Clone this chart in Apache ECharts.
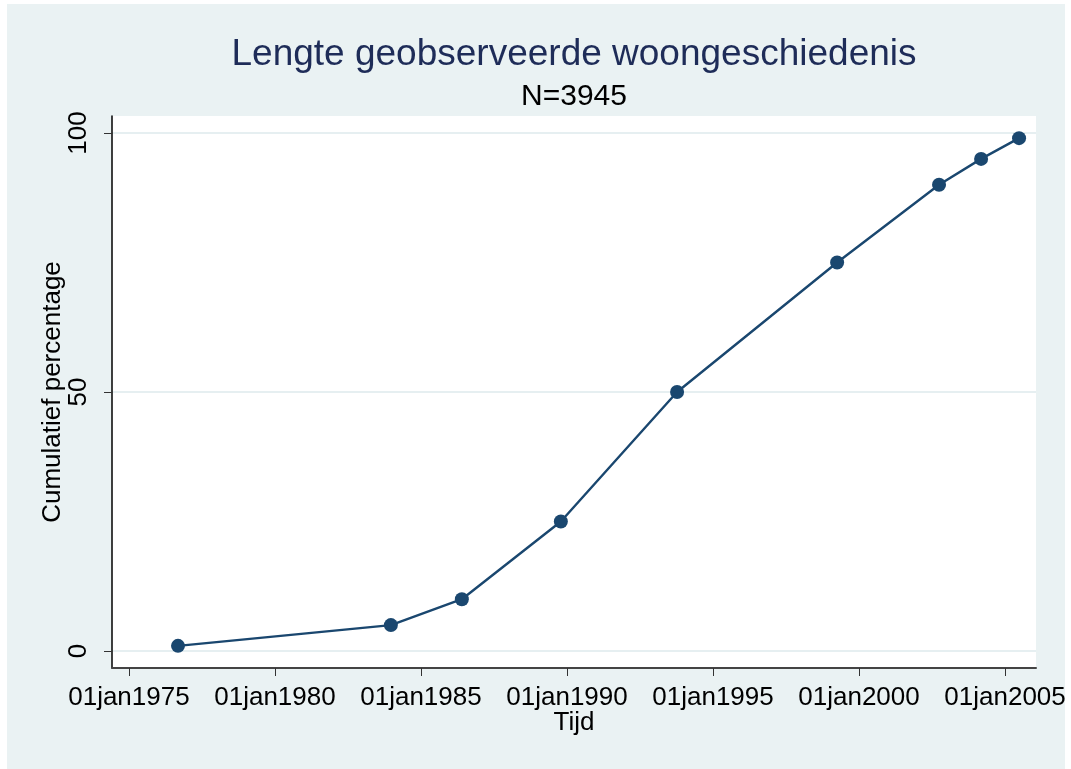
<!DOCTYPE html>
<html>
<head>
<meta charset="utf-8">
<script src="https://cdn.jsdelivr.net/npm/echarts@6/dist/echarts.min.js"></script>
<style>
html,body{margin:0;padding:0;background:#ffffff;}
#chart{width:1071px;height:769px;}
</style>
</head>
<body>
<div id="chart"></div>
<script>
// Time (decimal years) of each cumulative percentile
const years = [1976.68, 1983.97, 1986.40, 1989.79, 1993.77, 1999.25, 2002.74, 2004.18, 2005.48];
const cumPct = [1, 5, 10, 25, 50, 75, 90, 95, 99];
const xTicks = [1975, 1980, 1985, 1990, 1995, 2000, 2005];
const yTicks = [0, 50, 100];
const titleText = 'Lengte geobserveerde woongeschiedenis';
const subtitleText = 'N=3945';
const xTitle = 'Tijd';
const yTitle = 'Cumulatief percentage';

const chart = echarts.init(document.getElementById('chart'), null, {renderer: 'canvas'});
const FONT = '"Liberation Sans", Arial, Helvetica, sans-serif';
const navy = '#1a476f';

const option = {
  backgroundColor: '#ffffff',
  animation: false,
  graphic: [{
    type: 'rect', z: -10, silent: true,
    shape: {x: 7, y: 4, width: 1058, height: 765},
    style: {fill: '#eaf2f3'}
  }, {
    type: 'rect', z: -9, silent: true,
    shape: {x: 112, y: 116, width: 924, height: 552},
    style: {fill: '#ffffff'}
  }, {
    type: 'text', silent: true, x: 574, y: 36,
    style: {text: titleText, font: '37px ' + FONT, fill: '#1e2c58', align: 'center', verticalAlign: 'top'}
  }, {
    type: 'text', silent: true, x: 574, y: 82,
    style: {text: subtitleText, font: '30px ' + FONT, fill: '#000000', align: 'center', verticalAlign: 'top'}
  }],
  grid: {left: 112, right: 35, top: 116, bottom: 101, containLabel: false},
  xAxis: {
    type: 'value', min: 1974.42, max: 2006.06,
    name: xTitle, nameLocation: 'middle', nameGap: 42, nameMoveOverlap: false,
    nameTextStyle: {fontFamily: FONT, fontSize: 26, color: '#000'},
    axisLine: {show: true, onZero: false, lineStyle: {color: '#444', width: 2}},
    axisTick: {show: true, length: 8, lineStyle: {color: '#333', width: 1}, customValues: xTicks},
    axisLabel: {customValues: xTicks, fontFamily: FONT, fontSize: 26, color: '#000', margin: 17,
      formatter: v => '01jan' + v},
    splitLine: {show: false}
  },
  yAxis: {
    type: 'value', min: -3.28, max: 103.28,
    name: yTitle, nameLocation: 'middle', nameGap: 46, nameRotate: 90, nameMoveOverlap: false,
    nameTextStyle: {fontFamily: FONT, fontSize: 26, color: '#000'},
    axisLine: {show: true, onZero: false, lineStyle: {color: '#000', width: 1.5}},
    axisTick: {show: true, length: 8, lineStyle: {color: '#333', width: 1}, customValues: yTicks},
    axisLabel: {customValues: yTicks, rotate: 90, fontFamily: FONT, fontSize: 26, color: '#000', margin: 20},
    splitLine: {show: true, lineStyle: {color: '#e6eff1', width: 2}}
  },
  series: [{
    type: 'line',
    data: years.map((y, i) => [y, cumPct[i]]),
    symbol: 'circle', symbolSize: 14,
    itemStyle: {color: navy},
    lineStyle: {color: navy, width: 2.4},
    z: 5
  }]
};
chart.setOption(option);
</script>
</body>
</html>
